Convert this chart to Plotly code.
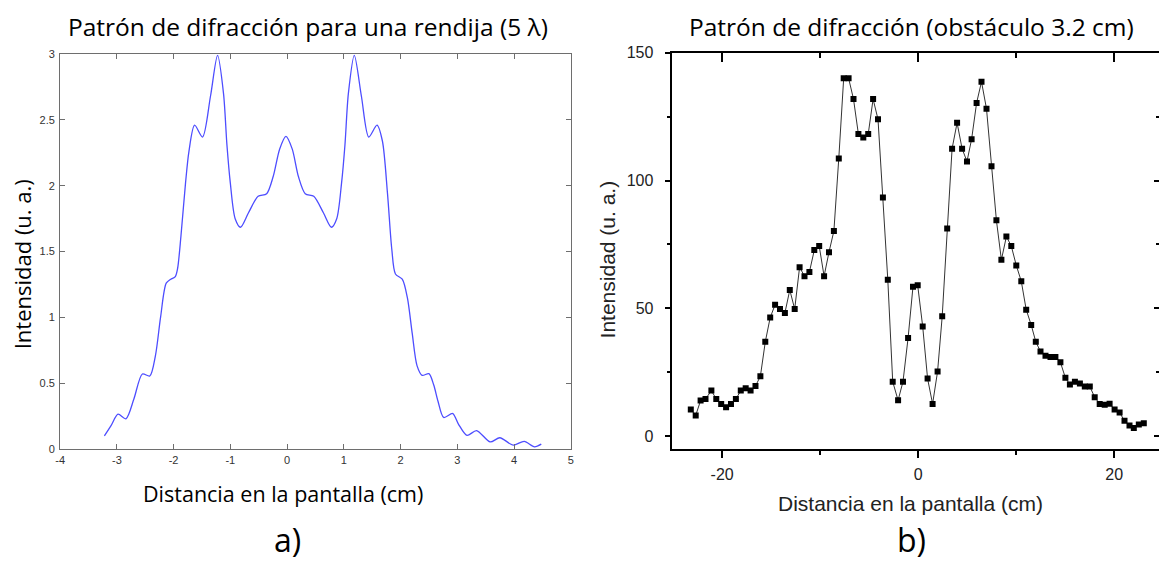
import plotly.graph_objects as go

# ---------- Panel a) : simulated single-slit pattern ----------
a_x = [-3.22, -3.10, -2.98, -2.84, -2.70, -2.55, -2.42, -2.32, -2.23, -2.13, -2.05, -1.97,
       -1.93, -1.87, -1.79, -1.73, -1.63, -1.49, -1.35, -1.225, -1.12, -1.06, -1.00, -0.915,
       -0.82, -0.68, -0.51, -0.36, -0.245, -0.13, -0.02, 0.09, 0.20, 0.32, 0.47, 0.64, 0.78,
       0.875, 0.96, 1.02, 1.08, 1.185, 1.31, 1.44, 1.585, 1.68, 1.77, 1.845, 1.91, 2.03, 2.12,
       2.205, 2.29, 2.38, 2.50, 2.585, 2.66, 2.76, 2.92, 3.02, 3.17, 3.34, 3.58, 3.75, 3.985,
       4.18, 4.36, 4.48]
a_y = [0.10, 0.18, 0.265, 0.23, 0.38, 0.57, 0.555, 0.71, 1.00, 1.26, 1.29, 1.31,
       1.37, 1.62, 2.02, 2.26, 2.46, 2.37, 2.68, 2.99, 2.70, 2.31, 2.02, 1.75,
       1.685, 1.795, 1.92, 1.94, 2.07, 2.28, 2.375, 2.28, 2.07, 1.94, 1.92, 1.795, 1.685,
       1.75, 2.02, 2.31, 2.70, 2.99, 2.68, 2.37, 2.46, 2.34, 1.94, 1.52, 1.33, 1.29, 1.15,
       0.88, 0.634, 0.56, 0.573, 0.486, 0.363, 0.24, 0.27, 0.19, 0.104, 0.14, 0.054, 0.086, 0.03,
       0.059, 0.017, 0.037]
a_xticks = [-4, -3, -2, -1, 0, 1, 2, 3, 4, 5]
a_xticklabels = ["-4", "-3", "-2", "-1", "0", "1", "2", "3", "4", "5"]
a_yticks = [0, 0.5, 1, 1.5, 2, 2.5, 3]
a_yticklabels = ["0", "0.5", "1", "1.5", "2", "2.5", "3"]

# ---------- Panel b) : measured pattern (obstacle 3.2 cm) ----------
b_x = [-23.2, -22.7, -22.2, -21.7, -21.1, -20.6, -20.1, -19.6, -19.1, -18.6, -18.1, -17.6,
       -17.1, -16.6, -16.1, -15.6, -15.1, -14.6, -14.1, -13.6, -13.1, -12.6, -12.1, -11.6,
       -11.1, -10.6, -10.1, -9.6, -9.1, -8.6, -8.1, -7.6, -7.1, -6.6, -6.1, -5.6, -5.1, -4.6,
       -4.1, -3.6, -3.1, -2.6, -2.05, -1.55, -1.03, -0.53, -0.05, 0.46, 0.96, 1.47, 1.98, 2.45,
       2.96, 3.46, 3.97, 4.48, 4.98, 5.45, 5.96, 6.46, 6.97, 7.48, 7.98, 8.49, 9.0, 9.5, 10.01,
       10.52, 11.02, 11.53, 12.0, 12.48, 12.99, 13.5, 14.0, 14.51, 15.02, 15.48, 15.99, 16.5,
       17.0, 17.51, 18.01, 18.52, 19.03, 19.53, 20.04, 20.55, 21.05, 21.56, 22.0, 22.51, 23.02]
b_y = [10.4, 8.1, 13.9, 14.5, 17.8, 14.5, 12.6, 11.3, 12.6, 14.5, 17.8, 18.7,
       17.8, 19.6, 23.4, 36.9, 46.4, 51.4, 49.7, 48.2, 57.2, 49.7, 66.1, 62.6,
       64.2, 72.8, 74.4, 62.6, 72.0, 80.3, 108.7, 140.1, 140.1, 131.9, 118.2, 116.9, 118.2, 131.9,
       124.0, 93.4, 61.2, 21.3, 14.0, 21.3, 38.4, 58.5, 59.0, 42.9, 22.5, 12.6, 25.3, 46.9,
       81.3, 112.5, 122.6, 112.5, 107.5, 116.2, 130.4, 138.7, 128.1, 105.6, 84.5, 69.0, 78.1, 74.4, 66.8,
       60.6, 49.5, 43.5, 36.9, 33.1, 31.4, 31.0, 31.0, 28.9, 22.8, 20.2, 21.3, 20.6,
       19.4, 19.4, 15.2, 12.6, 12.3, 12.7, 10.4, 9.2, 6.0, 4.1, 3.2, 4.5, 5.0]
b_xticks = [-20, 0, 20]
b_xticklabels = ["-20", "0", "20"]
b_xminor = [-10, 10]
b_yticks = [0, 50, 100, 150]
b_yminor = [25, 75, 125]

W, H = 1162, 563
def px(x):
    return x / W
def py(y):
    return (H - y) / H

fig = go.Figure()

fig.add_trace(go.Scatter(x=a_x, y=a_y, mode="lines", xaxis="x", yaxis="y",
                         line=dict(color="#4d4dff", width=1.3, shape="spline", smoothing=0.8),
                         hoverinfo="skip", showlegend=False))

fig.add_trace(go.Scatter(x=b_x, y=b_y, mode="lines+markers", xaxis="x2", yaxis="y2",
                         line=dict(color="#333333", width=1),
                         marker=dict(symbol="square", size=6, color="black"),
                         showlegend=False))
# invisible helper traces for the mirrored (top/right) axes of panel b
fig.add_trace(go.Scatter(x=[b_x[0]], y=[b_y[0]], mode="markers", xaxis="x3", yaxis="y2",
                         marker=dict(opacity=0), hoverinfo="skip", showlegend=False))
fig.add_trace(go.Scatter(x=[b_x[0]], y=[b_y[0]], mode="markers", xaxis="x2", yaxis="y3",
                         marker=dict(opacity=0), hoverinfo="skip", showlegend=False))

gray = "#6e6e6e"
tickfont_a = dict(family="Liberation Sans, Arial, sans-serif", size=11, color="#333333")
tickfont_b = dict(family="Liberation Sans, Arial, sans-serif", size=16, color="#222222")

fig.update_layout(
    width=W, height=H,
    margin=dict(l=0, r=0, t=0, b=0),
    paper_bgcolor="white", plot_bgcolor="white",
    showlegend=False,
    xaxis=dict(domain=[px(55.5), px(569.7)], range=[-4, 5], anchor="y",
               tickvals=a_xticks, ticktext=a_xticklabels, ticks="inside", ticklen=5, tickcolor=gray, tickwidth=1,
               showline=True, linecolor=gray, linewidth=1, mirror="ticks",
               showgrid=False, zeroline=False, tickfont=tickfont_a, ticklabelstandoff=1),
    yaxis=dict(domain=[py(452.3), py(47.3)], range=[0, 3], anchor="x",
               tickvals=a_yticks, ticktext=a_yticklabels, ticks="inside", ticklen=5, tickcolor=gray, tickwidth=1,
               showline=True, linecolor=gray, linewidth=1, mirror="ticks",
               showgrid=False, zeroline=False, tickfont=tickfont_a, ticklabelstandoff=2),
    xaxis2=dict(domain=[px(672), 1.0], range=[-25.08, 24.57], anchor="y2",
                tickvals=b_xticks, ticktext=b_xticklabels, ticks="outside", ticklen=7, tickwidth=1.5, tickcolor="black",
                minor=dict(tickvals=b_xminor, ticks="outside", ticklen=4, tickwidth=1.5, tickcolor="black"),
                showline=True, linecolor="black", linewidth=1.5,
                showgrid=False, zeroline=False, tickfont=tickfont_b, ticklabelstandoff=3),
    xaxis3=dict(domain=[px(672), 1.0], range=[-25.08, 24.57], anchor="y2", overlaying="x2", side="top",
                tickvals=b_xticks, ticks="inside", ticklen=9, tickwidth=1.5, tickcolor="black",
                minor=dict(tickvals=b_xminor, ticks="inside", ticklen=5, tickwidth=1.5, tickcolor="black"),
                showline=True, linecolor="black", linewidth=1.5, showticklabels=False,
                showgrid=False, zeroline=False),
    yaxis2=dict(domain=[py(452), py(46)], range=[-4.96, 150], anchor="x2",
                tickvals=b_yticks, ticks="outside", ticklen=6, tickwidth=1.5, tickcolor="black",
                minor=dict(tickvals=b_yminor, ticks="outside", ticklen=4, tickwidth=1.5, tickcolor="black"),
                showline=True, linecolor="black", linewidth=1.5,
                showgrid=False, zeroline=False, tickfont=tickfont_b, ticklabelstandoff=8),
    yaxis3=dict(domain=[py(452), py(46)], range=[-4.96, 150], anchor="x2", overlaying="y2", side="right",
                tickvals=b_yticks, ticks="inside", ticklen=5, tickwidth=1.5, tickcolor="black",
                minor=dict(tickvals=b_yminor, ticks="inside", ticklen=3, tickwidth=1.5, tickcolor="black"),
                showline=False, showticklabels=False, showgrid=False, zeroline=False),
)

cal = "Open Sans, Noto Sans, sans-serif"
ar = "Liberation Sans, Arial, sans-serif"
ann = [
    dict(text="Patrón de difracción para una rendija (5 λ)", x=px(305), y=py(19), font=dict(family=cal, size=24.5, color="black")),
    dict(text="Patrón de difracción (obstáculo 3.2 cm)", x=px(913), y=py(19), font=dict(family=cal, size=24.5, color="black")),
    dict(text="Intensidad (u. a.)", x=px(18), y=py(263), textangle=-90, font=dict(family=cal, size=22, color="black")),
    dict(text="Distancia en la pantalla (cm)", x=px(280), y=py(498), font=dict(family=cal, size=21.5, color="black")),
    dict(text="a)", x=px(284), y=py(545), font=dict(family=cal, size=32, color="black")),
    dict(text="Intensidad (u. a.)", x=px(607), y=py(258), textangle=-90, font=dict(family=ar, size=21, color="#222222")),
    dict(text="Distancia en la pantalla (cm)", x=px(912), y=py(508), font=dict(family=ar, size=21, color="#222222")),
    dict(text="b)", x=px(913), y=py(545), font=dict(family=cal, size=32, color="black")),
]
for a in ann:
    a.update(xref="paper", yref="paper", xanchor="center", yanchor="middle", showarrow=False)
fig.update_layout(annotations=ann)

fig.write_html("out.html")
